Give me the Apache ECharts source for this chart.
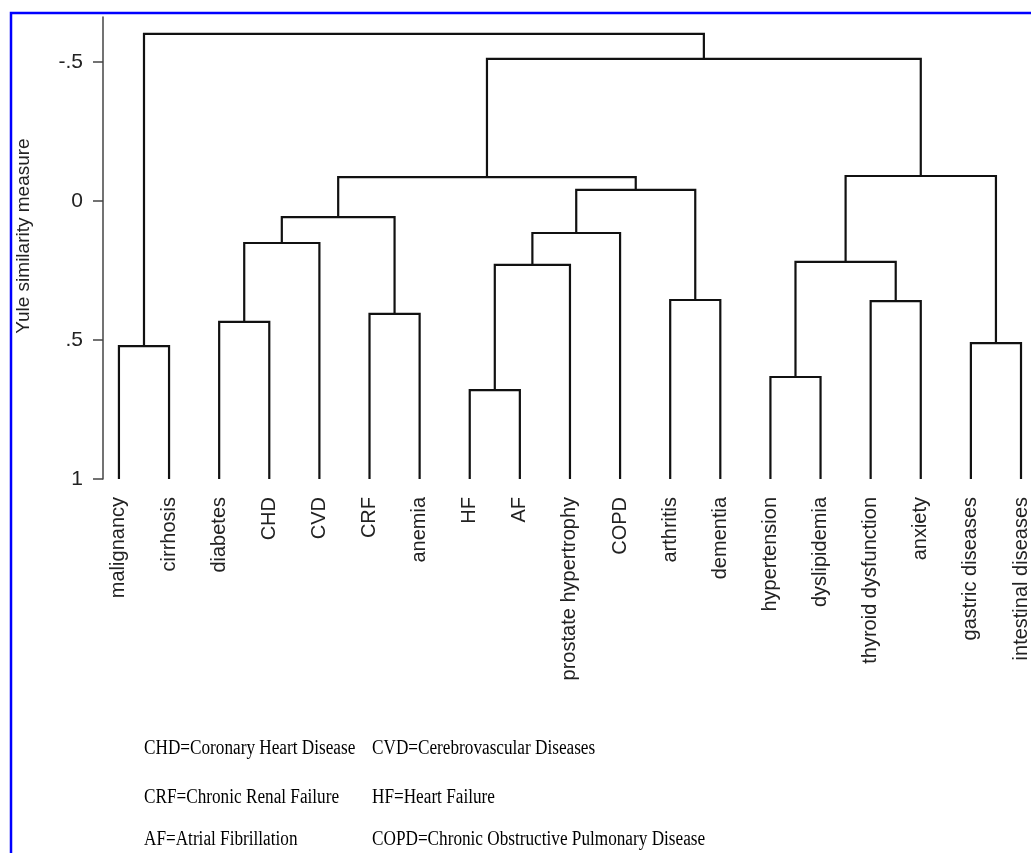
<!DOCTYPE html>
<html>
<head>
<meta charset="utf-8">
<style>
  html, body { margin: 0; padding: 0; background: #fff; }
  #root { width: 1031px; height: 853px; }
</style>
<script src="https://cdn.jsdelivr.net/npm/echarts@6/dist/echarts.min.js"></script>
</head>
<body>
<div id="root"></div>
<script>
// leaves of the dendrogram, left to right
const leafNames = [
  "malignancy", "cirrhosis", "diabetes", "CHD", "CVD", "CRF", "anemia",
  "HF", "AF", "prostate hypertrophy", "COPD", "arthritis", "dementia",
  "hypertension", "dyslipidemia", "thyroid dysfunction", "anxiety",
  "gastric diseases", "intestinal diseases"
];
const leafHeight = 1;

// linkage: node ids < 19 are leaves, merge k gets id 19 + k
const linkLeft = [0, 2, 20, 5, 21, 7, 24, 25, 11, 26, 23, 13, 15, 30, 17, 32, 29, 19];
const linkRight = [1, 3, 4, 6, 22, 8, 9, 10, 12, 27, 28, 14, 16, 31, 18, 33, 34, 35];
const linkHeight = [0.522, 0.435, 0.151, 0.406, 0.058, 0.68, 0.23, 0.115, 0.356,
  -0.04, -0.086, 0.633, 0.36, 0.219, 0.511, -0.09, -0.511, -0.601];

const yTicks = [-0.5, 0, 0.5, 1];
const yTickLabels = ["-.5", "0", ".5", "1"];

const notes = [
  ["CHD=Coronary Heart Disease", "CVD=Cerebrovascular Diseases"],
  ["CRF=Chronic Renal Failure", "HF=Heart Failure"],
  ["AF=Atrial Fibrillation", "COPD=Chronic Obstructive Pulmonary Disease"]
];

// build the elbow segments
const nodePos = leafNames.map((_, i) => [i, leafHeight]);
const segments = [];
linkHeight.forEach((h, k) => {
  const l = nodePos[linkLeft[k]];
  const r = nodePos[linkRight[k]];
  nodePos.push([(l[0] + r[0]) / 2, h]);
  segments.push({ coords: [l, [l[0], h], [r[0], h], r] });
});

const sans = "'Liberation Sans', Arial, sans-serif";
const serif = "'Liberation Serif', 'Times New Roman', serif";

const noteX = [144, 372];
const noteY = [749, 798, 840];
const noteGraphics = [];
notes.forEach((row, i) => {
  row.forEach((txt, j) => {
    noteGraphics.push({
      type: "text",
      x: noteX[j],
      y: noteY[i],
      scaleX: 0.86,
      style: { text: txt, font: "20px " + serif, fill: "#000", verticalAlign: "middle" }
    });
  });
});

const chart = echarts.init(document.getElementById("root"));
chart.setOption({
  animation: false,
  backgroundColor: "#fff",
  grid: { left: 103, right: 0, top: 17, bottom: 374 },
  xAxis: {
    type: "value",
    min: -0.318,
    max: 18.15,
    axisLine: { show: false },
    axisTick: { show: false },
    splitLine: { show: false },
    axisLabel: {
      customValues: leafNames.map((_, i) => i),
      formatter: v => leafNames[Math.round(v)],
      rotate: 90,
      margin: 18,
      fontSize: 20,
      fontFamily: sans,
      color: "#222"
    }
  },
  yAxis: {
    type: "value",
    inverse: true,
    min: -0.662,
    max: 1,
    name: "Yule similarity measure",
    nameLocation: "middle",
    nameRotate: 90,
    nameGap: 70,
    nameTextStyle: { fontSize: 19, fontFamily: sans, color: "#222", padding: [0, 0, 0, 24] },
    axisLine: { show: true, onZero: false, lineStyle: { color: "#444", width: 1.5 } },
    axisTick: { show: true, length: 10, customValues: yTicks, lineStyle: { color: "#444", width: 1.5 } },
    splitLine: { show: false },
    axisLabel: {
      customValues: yTicks,
      formatter: v => yTickLabels[yTicks.indexOf(v)],
      margin: 20,
      fontSize: 21,
      fontFamily: sans,
      color: "#222"
    }
  },
  series: [{
    type: "lines",
    coordinateSystem: "cartesian2d",
    polyline: true,
    silent: true,
    lineStyle: { color: "#111", width: 2.2, opacity: 1 },
    data: segments
  }],
  graphic: [
    {
      type: "rect",
      shape: { x: 11, y: 13, width: 1100, height: 1000 },
      style: { fill: "none", stroke: "#0000ff", lineWidth: 2.5 }
    }
  ].concat(noteGraphics)
});
</script>
</body>
</html>
